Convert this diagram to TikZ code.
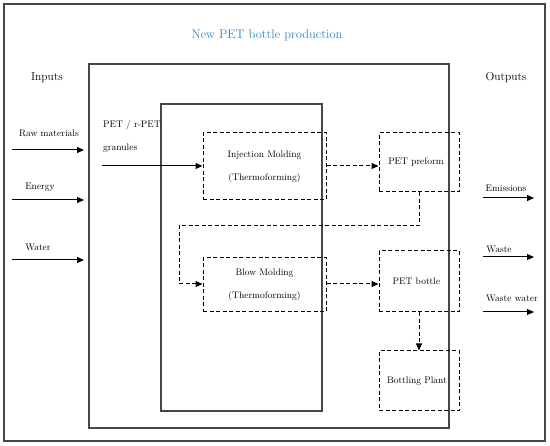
\documentclass[tikz,border=0pt]{standalone}
\usetikzlibrary{arrows.meta}
\definecolor{titleblue}{RGB}{40,135,200}
\definecolor{frame}{RGB}{70,70,70}
\begin{document}
\begin{tikzpicture}[x=1pt,y=-1pt,
  frm/.style={draw=frame,line width=1.1pt},
  dbox/.style={draw=black,line width=1pt,dash pattern=on 4pt off 2.5pt,inner sep=0pt},
  lbl/.style={font=\fontsize{9.5}{10}\selectfont,inner sep=0pt},
  arr/.style={line width=1pt,-{Triangle[length=7pt,width=6pt]}},
  darr/.style={line width=1pt,dash pattern=on 4pt off 2.5pt,-{Triangle[length=7pt,width=6pt]}}]
\useasboundingbox (0,0) rectangle (550,446);
\draw[frm] (4,4) rectangle (545,441);
\draw[frm] (89,64) rectangle (449,428);
\draw[frm] (161,104) rectangle (322,411);
\node[text=titleblue,font=\fontsize{12.5}{14}\selectfont] (title) at (267,35) {New PET bottle production};
\node[font=\fontsize{11.5}{13}\selectfont] (inputs) at (47,78) {Inputs};
\node[font=\fontsize{11.5}{13}\selectfont] (outputs) at (506,78) {Outputs};
% inputs
\node[lbl] (lraw) at (49,133) {Raw materials};
\node[lbl] (lenergy) at (40,187) {Energy};
\node[lbl] (lwater) at (38,247) {Water};
\coordinate (r0) at (12,150); \coordinate (r1) at (84,150);
\coordinate (e0) at (12,200); \coordinate (e1) at (84,200);
\coordinate (w0) at (12,260); \coordinate (w1) at (84,260);
\draw[arr] (r0) -- (r1);
\draw[arr] (e0) -- (e1);
\draw[arr] (w0) -- (w1);
% outputs
\node[lbl] (lem) at (506,188) {Emissions};
\node[lbl] (lwaste) at (499,249) {Waste};
\node[lbl] (lww) at (512,298) {Waste water};
\coordinate (o10) at (483,198); \coordinate (o11) at (534,198);
\coordinate (o20) at (483,257); \coordinate (o21) at (534,257);
\coordinate (o30) at (483,312); \coordinate (o31) at (534,312);
\draw[arr] (o10) -- (o11);
\draw[arr] (o20) -- (o21);
\draw[arr] (o30) -- (o31);
% PET granules
\node[lbl,anchor=west] (pet1) at (103,125) {PET / r-PET};
\node[lbl,anchor=west] (pet2) at (103,148) {granules};
\coordinate (g0) at (102,166);
% boxes
\node[dbox,minimum width=123pt,minimum height=67pt,align=center,font=\fontsize{9.5}{23}\selectfont] (inj) at (264.5,166.5) {Injection Molding\\(Thermoforming)};
\node[dbox,minimum width=80pt,minimum height=59pt,font=\fontsize{9.5}{10}\selectfont] (pre) at (419,162.5) {PET preform\hspace*{6pt}};
\node[dbox,minimum width=123pt,minimum height=54pt,align=center,font=\fontsize{9.5}{23}\selectfont] (blow) at (264.5,285) {Blow Molding\\(Thermoforming)};
\node[dbox,minimum width=80pt,minimum height=61pt,font=\fontsize{9.5}{10}\selectfont] (bot) at (419,281.5) {PET bottle\hspace*{5pt}};
\node[dbox,minimum width=80pt,minimum height=60pt,font=\fontsize{9.5}{10}\selectfont] (plant) at (419,381) {Bottling Plant\hspace*{4pt}};
\draw[arr] (g0) -- (g0 -| inj.west);
\draw[darr] (inj.east |- 0,166) -- (pre.west |- 0,166);
\coordinate (c1) at (419,226);
\coordinate (c2) at (179,226);
\coordinate (c3) at (179,284);
\draw[darr] (pre.south) -- (c1) -- (c2) -- (c3) -- (blow.west |- c3);
\draw[darr] (blow.east |- c3) -- (bot.west |- c3);
\draw[darr] (bot.south) -- (plant.north);
\end{tikzpicture}
\end{document}
